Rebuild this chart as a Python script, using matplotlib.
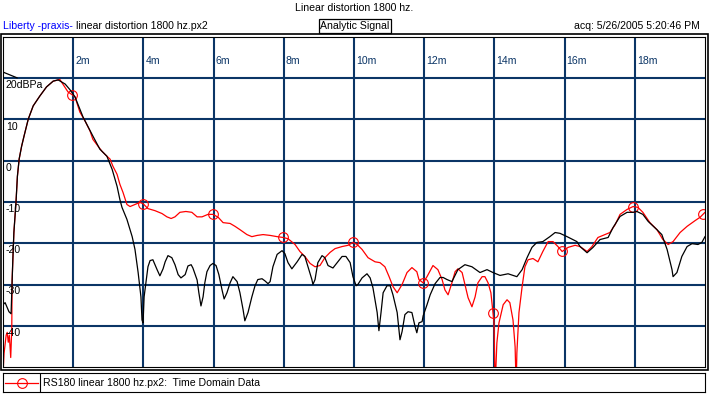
"""Time domain plot of the linear distortion measurement at 1800 Hz."""

import matplotlib
matplotlib.use("Agg")
import matplotlib.pyplot as plt
import numpy as np
from matplotlib.lines import Line2D
from matplotlib.patches import Rectangle

W, H = 709, 395
GRID = "#0b3566"
plt.rcParams["font.family"] = ["Liberation Sans", "DejaVu Sans"]
plt.rcParams["font.size"] = 7.6

# --- data (time in ms, level in dB) ---
x_ticks = [2, 4, 6, 8, 10, 12, 14, 16, 18]
x_labels = ["2m", "4m", "6m", "8m", "10m", "12m", "14m", "16m", "18m"]
y_ticks = [20, 10, 0, -10, -20, -30, -40]
y_labels = ["20dBPa", "10", "0", "-10", "-20", "-30", "-40"]

# short piece of the black trace at the very start
black_head_t = [0.0, 0.40]
black_head_db = [21.5, 20.1]

rise_t = [0.26, 0.28, 0.31, 0.37, 0.41, 0.46, 0.53, 0.60, 0.72, 0.86, 1.05,
          1.24, 1.43, 1.57]
rise_db = [-28.8, -24.0, -17.4, -10.1, -3.8, 0.4, 3.5, 6.0, 10.1, 13.3, 15.7,
           17.9, 19.3, 19.6]

black_t = [0.0, 0.06, 0.11, 0.17, 0.23] + rise_t + [
    1.77, 1.91, 2.05, 2.28, 2.56, 2.76, 2.96, 3.11, 3.25, 3.33, 3.39, 3.53, 3.68,
    3.76, 3.85, 3.93, 3.96, 3.99, 4.02, 4.07, 4.13, 4.19, 4.27, 4.33, 4.39, 4.47,
    4.56, 4.62, 4.70, 4.81, 4.90, 4.99, 5.07, 5.19, 5.27, 5.36, 5.41, 5.53, 5.58,
    5.64, 5.70, 5.75, 5.81, 5.90, 5.98, 6.07, 6.15, 6.24, 6.30, 6.38, 6.47, 6.55,
    6.67, 6.75, 6.84, 6.89, 6.98, 7.09, 7.18, 7.26, 7.38, 7.46, 7.55, 7.61, 7.69,
    7.81, 7.95, 8.03, 8.12, 8.23, 8.38, 8.52, 8.60, 8.69, 8.80, 8.83, 8.89, 8.97,
    9.09, 9.17, 9.26, 9.40, 9.52, 9.66, 9.77, 9.89, 9.97, 10.06, 10.11, 10.23,
    10.37, 10.46, 10.54, 10.66, 10.71, 10.77, 10.83, 10.94, 11.03, 11.11, 11.23,
    11.31, 11.37, 11.45, 11.54, 11.65, 11.74, 11.79, 11.85, 11.94, 11.97, 12.08,
    12.17, 12.31, 12.45, 12.54, 12.65, 12.79, 12.96, 13.16, 13.36, 13.59, 13.79,
    13.96, 14.16, 14.39, 14.64, 14.79, 14.93, 15.07, 15.21, 15.38, 15.58, 15.73,
    15.87, 16.07, 16.35, 16.44, 16.64, 16.81, 17.01, 17.24, 17.38, 17.58, 17.78,
    17.95, 18.06, 18.23, 18.38, 18.63, 18.77, 18.92, 19.06, 19.09, 19.20, 19.34,
    19.49, 19.63, 19.80, 19.91, 20.0]
black_db = [-34.9, -34.4, -35.4, -36.6, -37.1] + rise_db + [
    18.6, 17.2, 15.5, 10.6, 6.0, 2.8, 1.1, -2.1, -6.2, -9.4, -11.3, -14.2, -18.4,
    -21.5, -27.1, -33.0, -38.6, -39.3, -33.0, -29.6, -25.7, -24.2, -24.0, -25.2,
    -26.4, -27.9, -26.2, -24.5, -23.0, -23.5, -25.2, -27.6, -28.4, -27.6, -25.5,
    -25.2, -26.0, -28.9, -32.0, -35.2, -33.0, -29.6, -26.9, -25.4, -24.9, -25.4,
    -27.6, -31.3, -33.5, -32.0, -29.6, -28.1, -29.3, -32.0, -36.1, -38.8, -36.8,
    -33.0, -30.3, -28.8, -28.6, -29.1, -29.8, -29.3, -25.7, -22.7, -21.8, -22.5,
    -24.7, -26.2, -24.5, -22.7, -23.2, -25.7, -28.8, -30.0, -28.8, -24.7, -23.0,
    -23.5, -25.4, -26.0, -24.7, -23.2, -23.2, -24.7, -28.1, -30.3, -30.0, -28.4,
    -27.4, -28.4, -30.8, -36.8, -41.2, -36.8, -32.0, -30.3, -30.3, -32.5, -36.8,
    -43.4, -41.4, -37.3, -36.6, -36.8, -40.2, -41.7, -39.3, -39.0, -37.6, -34.9,
    -32.5, -29.8, -28.3, -28.3, -28.8, -29.3, -26.4, -25.2, -25.7, -27.1, -26.4,
    -27.1, -27.8, -27.4, -28.1, -26.4, -23.5, -21.0, -19.8, -19.6, -18.4, -17.4,
    -17.6, -18.4, -19.6, -20.8, -22.3, -21.0, -19.1, -18.6, -16.2, -13.5, -12.5,
    -12.5, -12.3, -13.0, -14.7, -16.7, -17.9, -21.5, -26.4, -28.1, -27.1, -23.2,
    -20.8, -20.1, -20.3, -19.8, -18.4]

red_t = [0.0, 0.01, 0.03, 0.09, 0.12, 0.15, 0.18, 0.22, 0.25] + rise_t + [
    1.62, 1.85, 1.97, 2.05, 2.19, 2.34, 2.48, 2.56, 2.71, 2.82, 2.96, 3.05, 3.13,
    3.25, 3.33, 3.42, 3.53, 3.62, 3.76, 3.90, 3.99, 4.13, 4.33, 4.53, 4.67, 4.79,
    4.90, 5.04, 5.21, 5.38, 5.53, 5.67, 5.84, 5.98, 6.13, 6.27, 6.47, 6.61, 6.75,
    6.95, 7.09, 7.24, 7.41, 7.61, 7.81, 7.98, 8.12, 8.32, 8.46, 8.60, 8.75, 8.89,
    9.03, 9.17, 9.32, 9.46, 9.66, 9.83, 9.97, 10.09, 10.23, 10.40, 10.60, 10.74,
    10.88, 11.00, 11.11, 11.23, 11.37, 11.51, 11.65, 11.79, 11.85, 11.97, 12.08,
    12.25, 12.39, 12.51, 12.59, 12.68, 12.79, 12.88, 12.96, 13.08, 13.16, 13.25,
    13.36, 13.45, 13.53, 13.65, 13.73, 13.82, 13.90, 13.96, 13.99, 14.02, 14.07,
    14.13, 14.25, 14.36, 14.44, 14.53, 14.59, 14.62, 14.64, 14.70, 14.79, 14.87,
    14.96, 15.10, 15.24, 15.38, 15.53, 15.67, 15.81, 15.93, 16.10, 16.30, 16.44,
    16.64, 16.78, 16.95, 17.15, 17.29, 17.44, 17.58, 17.78, 17.95, 18.09, 18.23,
    18.43, 18.63, 18.80, 18.95, 19.09, 19.29, 19.49, 19.72, 19.86, 19.94, 20.0]
red_db = [-50.8, -50.1, -46.7, -42.3, -41.6, -44.0, -42.3, -47.7, -40.6] + rise_db + [
    19.7, 16.7, 16.0, 15.5, 11.8, 9.6, 7.2, 5.2, 3.5, 2.3, 1.1, 0.4, -1.3, -3.3,
    -5.7, -7.7, -10.6, -11.1, -10.6, -10.1, -10.4, -11.6, -12.1, -12.8, -13.6,
    -14.0, -13.6, -12.5, -12.3, -12.5, -13.6, -13.6, -13.0, -13.0, -13.7, -15.0,
    -15.2, -15.9, -16.7, -17.9, -18.4, -18.1, -17.9, -18.1, -18.4, -18.6, -18.9,
    -20.3, -22.0, -23.2, -24.9, -25.7, -25.4, -23.5, -22.2, -21.3, -20.8, -20.5,
    -19.8, -20.3, -21.5, -23.5, -24.5, -24.7, -25.7, -28.1, -30.5, -32.0, -30.0,
    -27.1, -25.9, -26.9, -28.8, -29.6, -28.1, -25.4, -26.4, -28.8, -31.3, -32.5,
    -29.6, -26.9, -26.2, -27.1, -30.0, -33.2, -35.4, -33.0, -29.6, -28.1, -28.1,
    -29.6, -32.0, -36.8, -39.3, -55.0, -44.2, -39.3, -34.9, -33.7, -34.4, -38.6,
    -45.1, -55.0, -46.6, -36.8, -30.5, -25.7, -24.0, -23.7, -24.5, -22.0, -19.6,
    -19.6, -20.8, -22.0, -21.0, -20.5, -20.8, -22.0, -20.8, -18.6, -17.9, -17.4,
    -15.5, -13.0, -11.8, -11.1, -11.3, -12.5, -15.0, -16.7, -19.1, -20.3, -19.6,
    -17.4, -15.9, -14.5, -13.7, -13.0, -12.5]

red_marker_t = [1.97, 3.99, 5.98, 7.98, 9.97, 11.97, 13.96, 15.93, 17.95, 19.94]

legend_label = "RS180 linear 1800 hz.px2:  Time Domain Data"


def fx(x):
    return x / W


def fy(y):
    return 1 - y / H


fig = plt.figure(figsize=(W / 100, H / 100), dpi=100)
fig.patch.set_facecolor("white")

# main plot area
ax = fig.add_axes([fx(3), fy(367), (705 - 3) / W, (367 - 37) / H])
ax.set_xlim(0, 20)
ax.set_ylim(-50, 30)
ax.set_xticks(x_ticks)
ax.set_yticks(y_ticks)
ax.tick_params(length=0, labelbottom=False, labelleft=False)
ax.grid(True, color=GRID, lw=1.5)
for s in ax.spines.values():
    s.set_color("black")
    s.set_linewidth(0.8)

# red first, black drawn over it (as in the original)
red_t_arr = np.array(red_t)
mark_idx = [int(np.argmin(np.abs(red_t_arr - m))) for m in red_marker_t]
ax.plot(red_t, red_db, color="#ff0000", lw=0.9, marker="o", markevery=mark_idx,
        markersize=7, markerfacecolor="none", markeredgecolor="#ff0000",
        markeredgewidth=0.8, zorder=2)
ax.plot(black_head_t, black_head_db, color="black", lw=0.9, zorder=3)
ax.plot(black_t, black_db, color="black", lw=0.9, zorder=3)

for t, lab in zip(x_ticks, x_labels):
    ax.annotate(lab, xy=(t, 30), xytext=(2, -24), textcoords="offset pixels",
                ha="left", va="center", color=GRID)
for v, lab in zip(y_ticks, y_labels):
    ax.annotate(lab, xy=(0, v), xytext=(3, -2), textcoords="offset pixels",
                ha="left", va="top", color="black")

# outer frame
fig.add_artist(Rectangle((fx(0.8), fy(370)), (707.5 - 0.8) / W, (370 - 34) / H,
                         transform=fig.transFigure, fill=False, ec="black", lw=1.2))

# header texts
fig.text(fx(354), fy(8), "Linear distortion 1800 hz.", ha="center", va="center")
fig.text(fx(3), fy(26), "Liberty -praxis-", ha="left", va="center", color="#0000ff")
fig.text(fx(76), fy(26), "linear distortion 1800 hz.px2", ha="left", va="center")
fig.text(fx(355), fy(26), "Analytic Signal", ha="center", va="center",
         bbox=dict(boxstyle="square,pad=0.15", fc="white", ec="black", lw=0.9))
fig.text(fx(700), fy(26), "acq: 5/26/2005 5:20:46 PM", ha="right", va="center")

# legend strip
lax = fig.add_axes([fx(3), fy(392), (705 - 3) / W, (392 - 373) / H])
lax.set_xlim(0, 702)
lax.set_ylim(0, 19)
lax.set_xticks([])
lax.set_yticks([])
for s in lax.spines.values():
    s.set_color("black")
    s.set_linewidth(0.8)
lax.add_line(Line2D([37, 37], [0, 19], color="black", lw=0.8))
lax.add_line(Line2D([2, 35], [9.5, 9.5], color="#ff0000", lw=0.9))
lax.plot([18.5], [9.5], marker="o", markersize=7, markerfacecolor="none",
         markeredgecolor="#ff0000", markeredgewidth=0.8)
lax.text(40, 9.5, legend_label, ha="left", va="center")

fig.savefig("out.png", dpi=100)
